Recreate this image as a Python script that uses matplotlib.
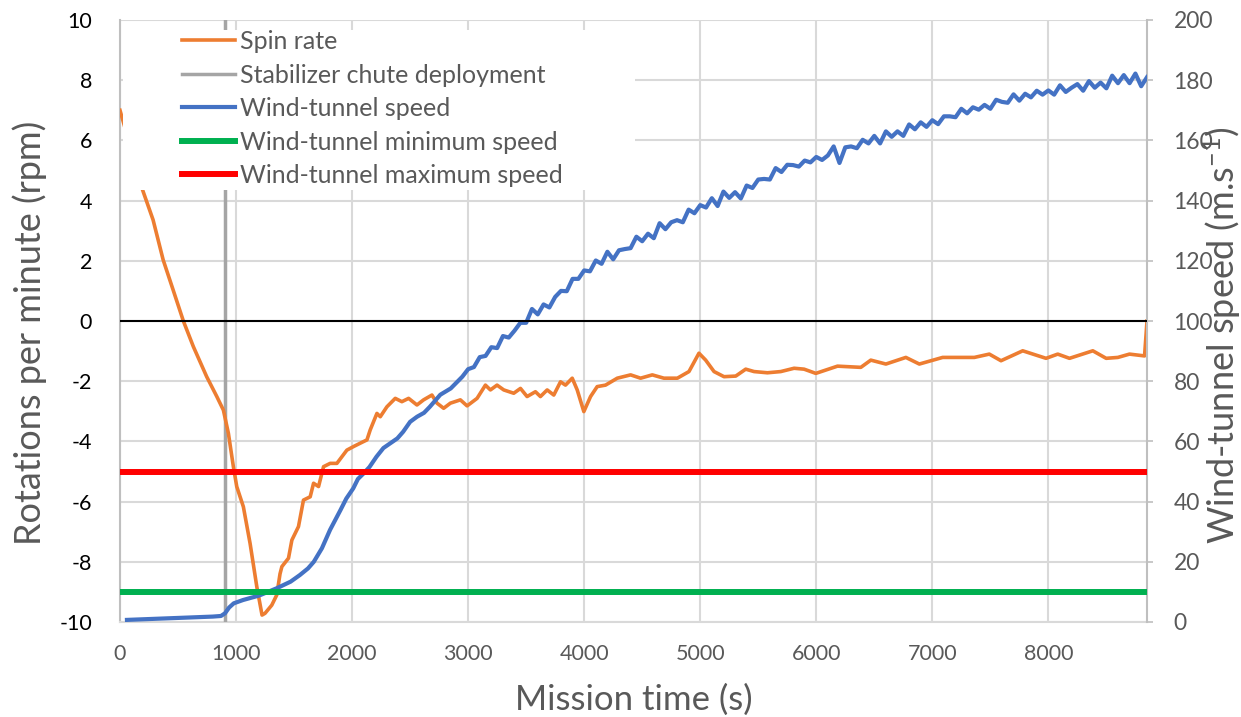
import numpy as np
import matplotlib
matplotlib.use("Agg")
import matplotlib.pyplot as plt
from matplotlib.patches import Rectangle
from matplotlib.transforms import blended_transform_factory

plt.rcParams['font.family'] = ['Lato', 'DejaVu Sans']
plt.rcParams['mathtext.fontset'] = 'custom'
plt.rcParams['mathtext.rm'] = 'Lato'
plt.rcParams['mathtext.it'] = 'Lato:italic'
plt.rcParams['axes.unicode_minus'] = False

# spin rate (rpm) vs mission time (s)
spin_t = [0, 195, 285, 372, 458, 546, 632, 747, 833, 891, 934, 977, 1006, 1063, 1121,
          1179, 1224, 1250, 1308, 1351, 1379, 1395, 1452, 1481, 1538, 1581, 1639, 1668,
          1711, 1754, 1811, 1869, 1955, 2013, 2070, 2128, 2156, 2214, 2243, 2300, 2372,
          2429, 2487, 2559, 2616, 2688, 2732, 2789, 2847, 2933, 2991, 3077, 3149, 3192,
          3249, 3307, 3393, 3451, 3508, 3580, 3623, 3681, 3738, 3796, 3839, 3897, 3940,
          3997, 4055, 4112, 4184, 4285, 4400, 4486, 4587, 4687, 4803, 4903, 4989, 5047,
          5119, 5205, 5306, 5392, 5464, 5579, 5694, 5809, 5895, 5996, 6183, 6384, 6470,
          6600, 6772, 6888, 7089, 7362, 7491, 7592, 7779, 7980, 8081, 8182, 8383, 8498,
          8599, 8699, 8829, 8850]
spin_rpm = [7.0, 4.35, 3.36, 2.03, 1.03, 0.0, -0.85, -1.85, -2.5, -2.96, -3.73, -4.84,
            -5.5, -6.17, -7.39, -8.83, -9.77, -9.71, -9.44, -9.1, -8.4, -8.16, -7.88,
            -7.28, -6.83, -5.95, -5.84, -5.39, -5.5, -4.84, -4.73, -4.73, -4.29, -4.17,
            -4.06, -3.95, -3.62, -3.07, -3.18, -2.85, -2.57, -2.68, -2.57, -2.79, -2.62,
            -2.46, -2.73, -2.9, -2.73, -2.62, -2.82, -2.57, -2.13, -2.29, -2.13, -2.29,
            -2.4, -2.24, -2.51, -2.35, -2.51, -2.29, -2.46, -2.02, -2.13, -1.9, -2.29,
            -3.01, -2.51, -2.18, -2.13, -1.9, -1.79, -1.9, -1.79, -1.9, -1.9, -1.68,
            -1.07, -1.3, -1.68, -1.85, -1.83, -1.6, -1.68, -1.72, -1.68, -1.57, -1.6,
            -1.74, -1.5, -1.54, -1.3, -1.43, -1.21, -1.43, -1.21, -1.21, -1.1, -1.32,
            -0.99, -1.24, -1.1, -1.24, -0.99, -1.24, -1.21, -1.1, -1.16, 0.0]

# wind-tunnel speed (m/s), early smooth part
wind_t_early = [60, 200, 400, 600, 800, 870, 905, 940, 980, 1060, 1200, 1350, 1470,
                1550, 1620, 1670, 1740, 1810, 1900, 1950, 2010, 2050, 2100, 2150, 2210,
                2270, 2330, 2390, 2440, 2500, 2560, 2620, 2670, 2760, 2850, 2950]
wind_v_early = [0.7, 0.9, 1.2, 1.5, 1.8, 2.0, 2.9, 4.8, 6.2, 7.3, 8.8, 11.2, 13.4,
                15.6, 17.8, 20.0, 24.5, 30.6, 37.2, 41.0, 44.4, 47.5, 49.4, 51.5, 54.9,
                57.8, 59.4, 61.0, 63.2, 66.5, 68.2, 69.5, 71.5, 75.5, 77.6, 81.5]

# wind-tunnel speed, noisy part sampled every 50 s from 3000 s
wind_t0, wind_dt = 3000, 50
wind_v_late = [84.0, 84.7, 88.0, 88.4, 91.3, 91.0, 95.0, 94.5, 96.8, 99.4,
               99.4, 104.0, 102.2, 105.5, 104.5, 108.0, 110.0, 109.9, 114.0, 114.0,
               116.8, 116.5, 120.1, 119.0, 123.0, 120.5, 123.5, 123.9, 124.2, 128.0,
               126.5, 129.0, 127.5, 132.5, 130.5, 132.8, 133.5, 132.8, 137.0, 135.8,
               138.5, 137.7, 140.8, 138.2, 143.0, 140.9, 142.8, 140.7, 145.0, 144.2,
               147.0, 147.2, 147.0, 150.8, 149.5, 151.9, 151.8, 151.3, 153.3, 152.7,
               154.5, 153.5, 155.0, 158.0, 152.5, 157.7, 158.0, 157.4, 160.2, 159.0,
               161.5, 159.0, 163.0, 161.2, 163.0, 161.5, 165.3, 163.7, 166.0, 164.5,
               166.7, 165.4, 168.0, 168.0, 167.7, 170.5, 169.0, 171.0, 170.2, 171.8,
               170.5, 173.5, 172.8, 172.5, 175.3, 173.2, 175.5, 174.3, 176.5, 175.2,
               176.6, 175.2, 178.3, 176.1, 177.5, 178.7, 176.5, 179.7, 177.5, 179.2,
               177.3, 181.5, 179.0, 181.7, 179.0, 182.2, 178.0, 181.0]

chute_time = 905
wind_min_speed = 10
wind_max_speed = 50
t_end = 8850

wind_t = np.concatenate([wind_t_early, wind_t0 + wind_dt * np.arange(len(wind_v_late))])
wind_v = np.concatenate([wind_v_early, wind_v_late])

GRAY_TXT = '#595959'
GRID = '#d9d9d9'

fig = plt.figure(figsize=(12.41, 7.17), dpi=100)
ax = fig.add_axes([120 / 1241, 1 - 622 / 717, 1027 / 1241, 602 / 717])
ax2 = ax.twinx()

# left axis: spin rate + chute deployment
ax.axvline(chute_time, color='#a5a5a5', lw=2.5, label='Stabilizer chute deployment', zorder=3)
ax.plot(spin_t, spin_rpm, color='#ed7d31', lw=2.6, label='Spin rate', zorder=4)

ax.set_xlim(0, t_end)
ax.set_ylim(-10, 10)
ax.set_xticks(np.arange(0, 8001, 1000))
ax.set_yticks(np.arange(-10, 11, 2))
ax.grid(True, color=GRID, lw=1.5)
ax.set_axisbelow(True)
for s in ['top', 'right']:
    ax.spines[s].set_visible(False)
ax.spines['left'].set_color('#bfbfbf')
ax.spines['left'].set_linewidth(1.5)
ax.spines['bottom'].set_color(GRID)
ax.spines['bottom'].set_linewidth(1.5)
ax.tick_params(axis='y', length=0, pad=20, labelsize=15.5, labelcolor='black')
ax.tick_params(axis='x', length=0, pad=16, labelsize=15.5, labelcolor=GRAY_TXT)

# right axis: wind tunnel speed
ax2.plot(wind_t, wind_v, color='#4472c4', lw=3, label='Wind-tunnel speed', zorder=3)
ax2.axhline(wind_min_speed, color='#00b050', lw=4.3, label='Wind-tunnel minimum speed', zorder=4)
ax2.axhline(wind_max_speed, color='#ff0000', lw=4.3, label='Wind-tunnel maximum speed', zorder=4)
zero_tr = blended_transform_factory(ax2.transAxes, ax.transData)
ax2.plot([0, 1], [0, 0], transform=zero_tr, color='black', lw=1.5, zorder=5)
ax2.set_ylim(0, 200)
ax2.set_yticks(np.arange(0, 201, 20))
for s in ['top', 'left', 'bottom']:
    ax2.spines[s].set_visible(False)
ax2.spines['right'].set_color('#bfbfbf')
ax2.spines['right'].set_linewidth(1.5)
ax2.tick_params(axis='y', length=4, width=1.2, color='#bfbfbf', pad=15,
                labelsize=16.5, labelcolor=GRAY_TXT)

# legend on a white patch
ax2.add_patch(Rectangle((0.003, 0.718), 0.498, 0.265, transform=ax2.transAxes,
                        facecolor='white', edgecolor='none', zorder=6))
h1, l1 = ax.get_legend_handles_labels()
h2, l2 = ax2.get_legend_handles_labels()
handles = [h1[1], h1[0]] + h2
labels = [l1[1], l1[0]] + l2
leg = ax2.legend(handles, labels, loc='upper left', bbox_to_anchor=(0.0604, 0.983),
                 frameon=False, fontsize=18, borderpad=0, borderaxespad=0,
                 handlelength=2.1, handletextpad=0.22, labelspacing=0.42)
leg.set_zorder(7)
for t in leg.get_texts():
    t.set_color(GRAY_TXT)

fig.text(633.5 / 1241, 1 - 700 / 717, 'Mission time (s)', ha='center', va='center',
         fontsize=25, color=GRAY_TXT)
fig.text(30 / 1241, 1 - 333 / 717, 'Rotations per minute (rpm)', ha='center', va='center',
         rotation=90, fontsize=26, color=GRAY_TXT)
fig.text(1222 / 1241, 1 - 335 / 717, r'Wind-tunnel speed (m.s$^{-1}$)', ha='center',
         va='center', rotation=90, fontsize=26, color=GRAY_TXT)

fig.savefig('out.png', dpi=100)
